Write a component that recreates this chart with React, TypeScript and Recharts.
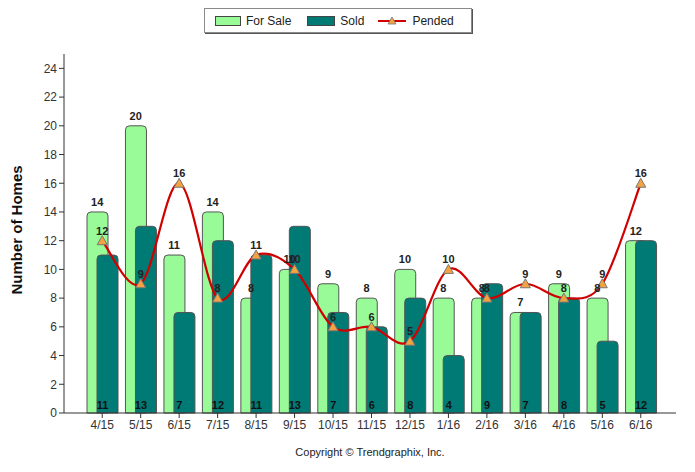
import {
  ComposedChart,
  Bar,
  Line,
  XAxis,
  YAxis,
  LabelList,
  Label,
} from "recharts";

const months = ["4/15", "5/15", "6/15", "7/15", "8/15", "9/15", "10/15", "11/15", "12/15", "1/16", "2/16", "3/16", "4/16", "5/16", "6/16"];
const forSale = [14, 20, 11, 14, 8, 10, 9, 8, 10, 8, 8, 7, 9, 8, 12];
const sold = [11, 13, 7, 12, 11, 13, 7, 6, 8, 4, 9, 7, 8, 5, 12];
const pended = [12, 9, 16, 8, 11, 10, 6, 6, 5, 10, 8, 9, 8, 9, 16];
const yTicks = [0, 2, 4, 6, 8, 10, 12, 14, 16, 18, 20, 22, 24];

const data = months.map((m, i) => ({
  month: m,
  forSale: forSale[i],
  sold: sold[i],
  pended: pended[i],
}));

const FONT = "'Liberation Sans', Arial, sans-serif";
const GREEN = "#98FB98";
const TEAL = "#007A74";
const RED = "#D00000";
const ORANGE = "#F4A340";

// catmull-rom style spline, goes a bit past the points like the original
const splineCurve = (context: any) => {
  let pts: number[][] = [];
  return {
    areaStart() {},
    areaEnd() {},
    lineStart() {
      pts = [];
    },
    point(x: number, y: number) {
      pts.push([+x, +y]);
    },
    lineEnd() {
      if (!pts.length) return;
      const s = 1 / 6;
      context.moveTo(pts[0][0], pts[0][1]);
      for (let i = 0; i < pts.length - 1; i++) {
        const p0 = pts[i - 1] || pts[i];
        const p1 = pts[i];
        const p2 = pts[i + 1];
        const p3 = pts[i + 2] || pts[i + 1];
        context.bezierCurveTo(
          p1[0] + (p2[0] - p0[0]) * s,
          p1[1] + (p2[1] - p0[1]) * s,
          p2[0] - (p3[0] - p1[0]) * s,
          p2[1] - (p3[1] - p1[1]) * s,
          p2[0],
          p2[1]
        );
      }
    },
  };
};

const Triangle = (props: any) => {
  const { cx, cy } = props;
  if (cx == null || cy == null) return null;
  return (
    <polygon
      points={`${cx},${cy - 5} ${cx - 5},${cy + 4} ${cx + 5},${cy + 4}`}
      fill={ORANGE}
      stroke="#777"
      strokeWidth={1}
    />
  );
};

const valueText = (dx: number, dy: number) => (props: any) => {
  const { x, y, value } = props;
  return (
    <text
      x={x + dx}
      y={y + dy}
      textAnchor="middle"
      fontFamily={FONT}
      fontSize={11}
      fontWeight="bold"
      fill="#222"
    >
      {value}
    </text>
  );
};

const soldBottom = (props: any) => {
  const { x, width, value } = props;
  return (
    <text
      x={x + width / 2 - 5}
      y={409}
      textAnchor="middle"
      fontFamily={FONT}
      fontSize={11}
      fontWeight="bold"
      fill="#111"
    >
      {value}
    </text>
  );
};

const LegendBox = () => (
  <div
    style={{
      position: "absolute",
      top: 8,
      left: 204,
      width: 268,
      height: 25,
      border: "1px solid #8a8a8a",
      boxShadow: "1px 1px 0 #555",
      background: "#fff",
      display: "flex",
      alignItems: "center",
      fontFamily: FONT,
      fontSize: 12,
      color: "#222",
      boxSizing: "border-box",
    }}
  >
    <span style={{ display: "inline-block", width: 24, height: 8, background: GREEN, border: "1px solid #444", marginLeft: 10 }} />
    <span style={{ marginLeft: 5 }}>For Sale</span>
    <span style={{ display: "inline-block", width: 26, height: 8, background: TEAL, border: "1px solid #444", marginLeft: 16 }} />
    <span style={{ marginLeft: 5 }}>Sold</span>
    <svg width={28} height={10} style={{ marginLeft: 14 }}>
      <line x1={0} y1={5} x2={28} y2={5} stroke={RED} strokeWidth={2} />
      <polygon points="14,1 10,8 18,8" fill={ORANGE} stroke="#777" strokeWidth={0.8} />
    </svg>
    <span style={{ marginLeft: 6 }}>Pended</span>
  </div>
);

const App = () => {
  return (
    <div style={{ position: "absolute", left: 0, top: 0, width: 695, height: 472, background: "#fff" }}>
      <ComposedChart
        width={695}
        height={472}
        data={data}
        margin={{ top: 54, right: 19, bottom: 29, left: 0 }}
        barSize={21}
        barGap={-11}
      >
        <XAxis
          dataKey="month"
          padding={{ left: 19, right: 16 }}
          stroke="#333"
          tick={{ fill: "#333", fontSize: 12, fontFamily: FONT }}
          tickSize={5}
          height={30}
        />
        <YAxis
          domain={[0, 25]}
          ticks={yTicks}
          width={64}
          stroke="#333"
          tick={{ fill: "#333", fontSize: 12, fontFamily: FONT }}
          tickSize={5}
          interval={0}
        >
          <Label
            content={() => (
              <text
                transform="translate(22,230) rotate(-90)"
                textAnchor="middle"
                fontFamily={FONT}
                fontSize={15}
                fontWeight="bold"
                fill="#111"
              >
                Number of Homes
              </text>
            )}
          />
        </YAxis>
        <Bar dataKey="forSale" name="For Sale" fill={GREEN} stroke="#555" radius={[4, 4, 0, 0]} isAnimationActive={false} />
        <Bar dataKey="sold" name="Sold" fill={TEAL} stroke="#555" radius={[4, 4, 0, 0]} isAnimationActive={false}>
          <LabelList dataKey="sold" content={soldBottom} />
        </Bar>
        <Line
          dataKey="forSale"
          stroke="none"
          dot={false}
          activeDot={false}
          legendType="none"
          isAnimationActive={false}
        >
          <LabelList dataKey="forSale" content={valueText(-5, -6)} />
        </Line>
        <Line
          type={splineCurve as any}
          dataKey="pended"
          name="Pended"
          stroke={RED}
          strokeWidth={2.2}
          dot={<Triangle />}
          activeDot={false}
          isAnimationActive={false}
        >
          <LabelList dataKey="pended" content={valueText(0, -6)} />
        </Line>
      </ComposedChart>
      <LegendBox />
      <div
        style={{
          position: "absolute",
          top: 446,
          left: 0,
          width: 740,
          textAlign: "center",
          fontFamily: FONT,
          fontSize: 11,
          color: "#222",
        }}
      >
        Copyright © Trendgraphix, Inc.
      </div>
    </div>
  );
};

export default App;
